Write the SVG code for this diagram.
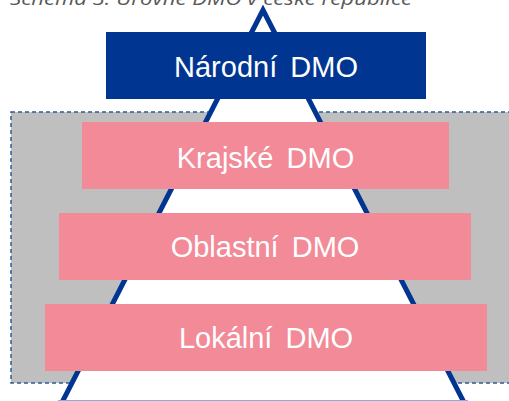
<svg xmlns="http://www.w3.org/2000/svg" width="509" height="401" viewBox="0 0 509 401">
  <defs>
    <style>
      .lbl { font-family: "Liberation Sans", Arial, sans-serif; font-size: 29px; fill: #ffffff; text-anchor: middle; word-spacing: 5px; }
      .pink { fill: #F28A98; }
      .title { font-family: "Open Sans", "Liberation Sans", sans-serif; font-style: italic; font-size: 18px; fill: #595959; }
    </style>
  </defs>
  <rect width="509" height="401" fill="#ffffff"/>
  <text class="title" x="10" y="5" textLength="402" lengthAdjust="spacingAndGlyphs">Schéma 3: Úrovně DMO v české republice</text>
  <g id="region-frame">
    <rect x="11" y="112" width="510" height="271" fill="#BFBFBF" stroke="#2E5C99" stroke-width="1.5" stroke-dasharray="4,3"/>
  </g>
  <g id="connectors">
    <path d="M 53,420 L 263,10 L 473,420 Z" fill="#ffffff" stroke="#003591" stroke-width="5" stroke-linejoin="miter"/>
    <line x1="58" y1="400.5" x2="468" y2="400.5" stroke="#8FAADC" stroke-width="1"/>
  </g>
  <g id="narodni">
    <rect x="106" y="32" width="320" height="67" fill="#003591"/>
    <text class="lbl" x="266" y="77">Národní DMO</text>
  </g>
  <g id="krajske">
    <rect class="pink" x="82" y="122" width="367" height="67"/>
    <text class="lbl" x="265.5" y="168">Krajské DMO</text>
  </g>
  <g id="oblastni">
    <rect class="pink" x="59" y="213" width="412" height="67"/>
    <text class="lbl" x="265" y="257">Oblastní DMO</text>
  </g>
  <g id="lokalni">
    <rect class="pink" x="45" y="304" width="442" height="67"/>
    <text class="lbl" x="266" y="348">Lokální DMO</text>
  </g>
</svg>
